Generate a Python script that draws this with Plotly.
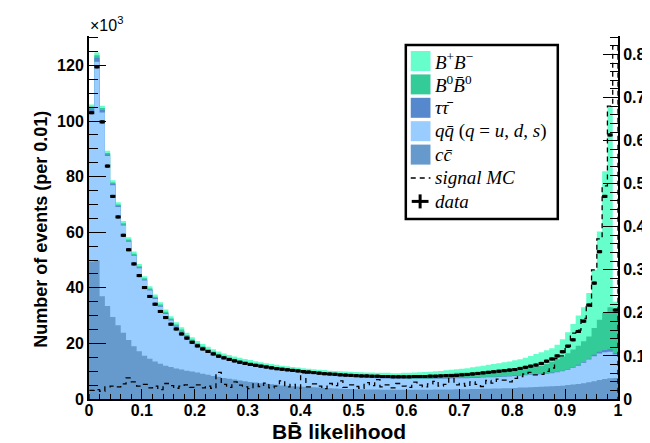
import plotly.graph_objects as go

# ---------------- data ----------------
n_bins = 100
bin_edges = [round(i * 0.01, 2) for i in range(n_bins + 1)]
bin_centers = [round((i + 0.5) * 0.01, 3) for i in range(n_bins)]

# cumulative stack levels, in units of 10^3 events per 0.01
# top of B+B- (= total MC)
stack_top_bpbm = [
    106.0, 124.7, 105.5, 89.3, 78.7, 70.8, 64.0, 58.2, 53.1, 48.6,
    44.2, 40.6, 37.6, 34.8, 32.2, 29.8, 27.6, 25.8, 23.8, 22.2,
    20.9, 19.8, 18.8, 17.9, 17.1, 16.4, 15.8, 15.3, 14.8, 14.4,
    14.0, 13.6, 13.2, 12.9, 12.6, 12.3, 12.0, 11.8, 11.5, 11.3,
    11.1, 10.9, 10.7, 10.5, 10.4, 10.2, 10.1, 10.0, 9.9, 9.8,
    9.7, 9.6, 9.5, 9.5, 9.4, 9.4, 9.4, 9.3, 9.3, 9.4,
    9.4, 9.5, 9.6, 9.7, 9.8, 10.0, 10.1, 10.3, 10.5, 10.7,
    10.9, 11.1, 11.4, 11.7, 12.0, 12.3, 12.6, 12.9, 13.2, 13.5,
    13.9, 14.3, 14.8, 15.5, 16.2, 16.8, 17.5, 18.3, 19.5, 21.5,
    24.0, 27.0, 30.0, 33.0, 38.1, 46.5, 60.3, 81.9, 105.3, 35.0]
# top of B0 B0bar
stack_top_b0b0 = [
    105.2, 123.7, 104.7, 88.5, 77.9, 70.0, 63.2, 57.4, 52.3, 47.8,
    43.4, 39.8, 36.8, 34.0, 31.4, 29.0, 26.8, 25.0, 23.0, 21.4,
    20.1, 19.0, 18.0, 17.1, 16.3, 15.6, 15.0, 14.5, 14.0, 13.6,
    13.2, 12.8, 12.4, 12.1, 11.8, 11.5, 11.2, 11.0, 10.7, 10.5,
    10.2, 10.0, 9.8, 9.6, 9.5, 9.3, 9.2, 9.1, 9.0, 8.9,
    8.7, 8.6, 8.5, 8.5, 8.4, 8.4, 8.4, 8.3, 8.3, 8.4,
    8.3, 8.4, 8.5, 8.6, 8.7, 8.7, 8.8, 9.0, 9.2, 9.4,
    9.4, 9.5, 9.6, 9.7, 9.8, 9.9, 10.0, 10.1, 10.2, 10.2,
    10.3, 10.6, 10.9, 11.2, 11.5, 12.0, 12.6, 13.4, 14.3, 15.3,
    16.5, 17.8, 19.2, 20.8, 22.5, 25.5, 28.5, 31.0, 33.0, 31.0]
# top of tau tau
stack_top_tautau = [
    104.5, 122.8, 104.0, 88.0, 77.4, 69.5, 62.7, 56.9, 51.8, 47.3,
    42.9, 39.3, 36.3, 33.5, 30.9, 28.5, 26.3, 24.5, 22.5, 20.9,
    19.6, 18.5, 17.5, 16.6, 15.8, 15.1, 14.5, 14.0, 13.5, 13.1,
    12.7, 12.3, 11.9, 11.6, 11.3, 11.0, 10.7, 10.5, 10.2, 10.0,
    9.6, 9.4, 9.2, 9.0, 8.9, 8.7, 8.6, 8.4, 8.3, 8.2,
    8.0, 7.9, 7.8, 7.8, 7.7, 7.6, 7.6, 7.5, 7.5, 7.5,
    7.4, 7.4, 7.4, 7.4, 7.4, 7.5, 7.5, 7.5, 7.6, 7.7,
    7.7, 7.7, 7.8, 7.8, 7.9, 8.0, 8.0, 8.1, 8.2, 8.3,
    8.5, 8.6, 8.7, 8.9, 9.0, 9.1, 9.3, 9.5, 9.8, 10.2,
    10.8, 11.5, 12.3, 13.3, 14.5, 15.9, 17.0, 17.6, 18.0, 16.5]
# top of q qbar (uds)
stack_top_qq = [
    103.5, 121.3, 103.1, 87.4, 76.9, 69.1, 62.4, 56.6, 51.5, 47.0,
    42.6, 39.0, 36.0, 33.2, 30.6, 28.2, 26.0, 24.2, 22.2, 20.6,
    19.4, 18.3, 17.3, 16.4, 15.6, 14.9, 14.3, 13.8, 13.3, 12.9,
    12.5, 12.1, 11.7, 11.4, 11.1, 10.8, 10.5, 10.3, 10.0, 9.8,
    9.4, 9.2, 9.0, 8.8, 8.7, 8.5, 8.4, 8.2, 8.1, 8.0,
    7.8, 7.7, 7.6, 7.6, 7.5, 7.4, 7.4, 7.3, 7.3, 7.3,
    7.2, 7.2, 7.2, 7.2, 7.2, 7.3, 7.3, 7.3, 7.4, 7.5,
    7.5, 7.5, 7.6, 7.6, 7.7, 7.8, 7.8, 7.9, 8.0, 8.1,
    8.3, 8.4, 8.5, 8.7, 8.8, 8.9, 9.1, 9.3, 9.6, 10.0,
    10.5, 11.2, 12.0, 13.0, 14.2, 15.4, 16.4, 16.8, 17.0, 16.0]
# top of c cbar (bottom of the stack)
stack_top_cc = [
    49.5, 49.8, 37.0, 33.5, 29.5, 26.5, 23.8, 21.2, 19.0, 17.2,
    15.6, 14.5, 13.5, 12.7, 12.0, 11.5, 11.0, 10.6, 10.2, 9.9,
    9.5, 9.1, 8.7, 8.3, 8.0, 7.6, 7.3, 7.0, 6.7, 6.4,
    6.1, 5.9, 5.7, 5.5, 5.3, 5.1, 4.9, 4.8, 4.6, 4.5,
    4.4, 4.3, 4.2, 4.1, 4.0, 3.9, 3.8, 3.7, 3.6, 3.6,
    3.5, 3.5, 3.4, 3.4, 3.4, 3.3, 3.3, 3.3, 3.3, 3.3,
    3.3, 3.3, 3.3, 3.3, 3.3, 3.4, 3.4, 3.4, 3.4, 3.5,
    3.5, 3.5, 3.6, 3.6, 3.7, 3.7, 3.8, 3.8, 3.9, 3.9,
    4.0, 4.1, 4.1, 4.2, 4.3, 4.4, 4.5, 4.6, 4.7, 4.8,
    5.0, 5.2, 5.4, 5.7, 6.0, 6.4, 6.8, 7.2, 7.5, 7.6]

# signal MC (normalised, right axis)
signal_mc = [
    0.020, 0.022, 0.018, 0.028, 0.030, 0.028, 0.035, 0.049, 0.040, 0.030,
    0.034, 0.026, 0.030, 0.022, 0.036, 0.031, 0.025, 0.030, 0.033, 0.027,
    0.033, 0.026, 0.030, 0.025, 0.062, 0.034, 0.027, 0.040, 0.032, 0.028,
    0.024, 0.035, 0.029, 0.037, 0.026, 0.030, 0.042, 0.028, 0.034, 0.025,
    0.061, 0.028, 0.035, 0.030, 0.024, 0.036, 0.031, 0.042, 0.027, 0.033,
    0.029, 0.025, 0.038, 0.031, 0.045, 0.028, 0.033, 0.026, 0.036, 0.030,
    0.027, 0.039, 0.032, 0.028, 0.035, 0.041, 0.030, 0.034, 0.048, 0.033,
    0.036, 0.030, 0.040, 0.034, 0.029, 0.043, 0.037, 0.046, 0.044, 0.040,
    0.048, 0.052, 0.058, 0.062, 0.056, 0.057, 0.064, 0.072, 0.094, 0.100,
    0.122, 0.153, 0.160, 0.187, 0.215, 0.300, 0.372, 0.495, 0.680, 0.820]

# data (10^3 events per 0.01)
data_counts = [
    103.0, 119.5, 99.7, 83.8, 72.9, 65.5, 58.9, 53.7, 48.6, 44.4,
    40.1, 36.9, 34.1, 31.5, 29.3, 26.9, 25.2, 23.4, 21.9, 20.4,
    19.1, 18.0, 17.1, 16.2, 15.4, 14.8, 14.2, 13.7, 13.2, 12.8,
    12.4, 12.1, 11.8, 11.5, 11.2, 10.9, 10.7, 10.5, 10.3, 10.1,
    9.9, 9.7, 9.5, 9.3, 9.1, 9.0, 8.9, 8.7, 8.6, 8.5,
    8.4, 8.3, 8.3, 8.2, 8.2, 8.1, 8.1, 8.0, 8.0, 8.0,
    8.0, 8.1, 8.1, 8.1, 8.2, 8.2, 8.3, 8.4, 8.4, 8.5,
    8.7, 8.8, 9.0, 9.2, 9.4, 9.6, 9.8, 10.0, 10.2, 10.4,
    10.6, 11.0, 11.4, 11.8, 12.2, 12.8, 13.6, 14.4, 15.5, 17.0,
    19.0, 21.3, 24.3, 28.0, 33.8, 41.7, 53.0, 72.9, 95.0, 32.0]

component_labels = [
    "<i>B</i><sup>+</sup><i>B</i><sup>\u2212</sup>",
    "<i>B</i><sup>0</sup><i>B\u0304</i><sup>0</sup>",
    "<i>\u03c4\u03c4\u0304</i>",
    "<i>qq\u0304</i> (<i>q</i> = <i>u</i>, <i>d</i>, <i>s</i>)",
    "<i>cc\u0304</i>",
]
signal_label = "<i>signal MC</i>"
data_label = "<i>data</i>"
x_title = "BB\u0304 likelihood"
y_title = "Number of events (per 0.01)"

# ---------------- styling ----------------
colors = ["#66ffcc", "#33cc99", "#5588cc", "#99ccff", "#6699cc"]
levels = [stack_top_bpbm, stack_top_b0b0, stack_top_tautau, stack_top_qq, stack_top_cc]

PL, PR, PT, PB = 81, 617, 28, 391   # plot area in pixels
W, H = 650, 443


def px_x(px):
    return (px - PL) / (PR - PL)


def px_y(py):
    return (PB - py) / (PB - PT)


def step_xy(vals):
    xs = [bin_edges[0]] + bin_edges[:-1] + [bin_edges[-1], bin_edges[-1]]
    ys = [0] + list(vals) + [vals[-1], 0]
    return xs, ys


fig = go.Figure()

for lev, col in zip(levels, colors):
    xs, ys = step_xy(lev)
    fig.add_trace(go.Scatter(
        x=xs, y=ys, mode="lines", line=dict(width=0, shape="hv", color=col),
        fill="tozeroy", fillcolor=col, hoverinfo="skip", showlegend=False))

fig.add_trace(go.Scatter(
    x=bin_centers, y=data_counts, mode="markers",
    marker=dict(symbol="square", size=3, color="black"),
    error_x=dict(type="constant", value=0.005, thickness=3, width=0, color="black"),
    showlegend=False))

xs, ys = step_xy(signal_mc)
fig.add_trace(go.Scatter(
    x=xs, y=ys, mode="lines", yaxis="y2",
    line=dict(color="black", width=1.3, dash="5px,4px", shape="hv"),
    showlegend=False))

tickfont = dict(family="Liberation Sans", size=16, color="black", weight="bold")

fig.update_layout(
    width=W, height=H,
    margin=dict(l=PL, r=W - PR, t=PT, b=H - PB),
    plot_bgcolor="white", paper_bgcolor="white",
    showlegend=False,
    xaxis=dict(range=[0, 1], tick0=0, dtick=0.1, ticks="inside", ticklen=10,
               tickwidth=1.2, tickcolor="black", showline=True, linecolor="black",
               linewidth=2, showgrid=False, zeroline=False, tickfont=tickfont,
               ticklabelstandoff=-4,
               minor=dict(ticks="inside", ticklen=5, dtick=0.02, tickwidth=1,
                          tickcolor="black", showgrid=False)),
    yaxis=dict(range=[0, 130.6], tick0=0, dtick=20, ticks="inside", ticklen=17,
               tickwidth=1.2, tickcolor="black", showline=True, linecolor="black",
               linewidth=2, showgrid=False, zeroline=False, tickfont=tickfont,
               minor=dict(ticks="inside", ticklen=9, dtick=5, tickwidth=1,
                          tickcolor="black", showgrid=False)),
    yaxis2=dict(range=[0, 0.843], tick0=0, dtick=0.1, overlaying="y", side="right",
                ticks="inside", ticklen=15, tickwidth=1.2, tickcolor="black",
                showline=True, linecolor="black", linewidth=2, showgrid=False,
                zeroline=False, tickfont=tickfont,
                minor=dict(ticks="inside", ticklen=8, dtick=0.02, tickwidth=1,
                           tickcolor="black", showgrid=False)),
)

shapes = []
annotations = []

# axis titles and exponent
annotations.append(dict(text=x_title, x=px_x(334), y=px_y(424),
                        xref="paper", yref="paper", showarrow=False, yanchor="middle",
                        font=dict(family="Liberation Sans", size=21, color="black", weight="bold")))
annotations.append(dict(text=y_title, x=px_x(20), y=px_y(221),
                        xref="paper", yref="paper", showarrow=False, textangle=-90,
                        font=dict(family="Liberation Sans", size=18, color="black", weight="bold")))
annotations.append(dict(text="\u00d710<sup>3</sup>", x=px_x(80), y=px_y(16),
                        xref="paper", yref="paper", showarrow=False, xanchor="left",
                        yanchor="middle",
                        font=dict(family="Liberation Sans", size=16, color="black")))

# legend box (drawn by hand, ROOT style)
shapes.append(dict(type="rect", xref="paper", yref="paper",
                   x0=px_x(402), x1=px_x(556), y0=px_y(211), y1=px_y(37),
                   line=dict(color="black", width=2.5), fillcolor="white", layer="above"))
row_y = [53, 76.4, 99.8, 123.2, 146.6, 170, 193.4]
legfont = dict(family="Liberation Serif", size=19, color="black")
for i, (lab, col) in enumerate(zip(component_labels, colors)):
    yc = row_y[i]
    shapes.append(dict(type="rect", xref="paper", yref="paper",
                       x0=px_x(407), x1=px_x(427), y0=px_y(yc + 10), y1=px_y(yc - 10),
                       line=dict(width=0), fillcolor=col, layer="above"))
    annotations.append(dict(text=lab, x=px_x(430), y=px_y(yc), xref="paper", yref="paper",
                            showarrow=False, xanchor="left", yanchor="middle", font=legfont))
# signal MC entry
shapes.append(dict(type="line", xref="paper", yref="paper",
                   x0=px_x(407), x1=px_x(427), y0=px_y(row_y[5]), y1=px_y(row_y[5]),
                   line=dict(color="black", width=1.3, dash="5px,4px"), layer="above"))
annotations.append(dict(text=signal_label, x=px_x(430), y=px_y(row_y[5]), xref="paper",
                        yref="paper", showarrow=False, xanchor="left", yanchor="middle",
                        font=legfont))
# data entry (+)
shapes.append(dict(type="line", xref="paper", yref="paper",
                   x0=px_x(408), x1=px_x(425), y0=px_y(row_y[6]), y1=px_y(row_y[6]),
                   line=dict(color="black", width=3), layer="above"))
shapes.append(dict(type="line", xref="paper", yref="paper",
                   x0=px_x(416.5), x1=px_x(416.5), y0=px_y(row_y[6] + 7), y1=px_y(row_y[6] - 7),
                   line=dict(color="black", width=3), layer="above"))
annotations.append(dict(text=data_label, x=px_x(430), y=px_y(row_y[6]), xref="paper",
                        yref="paper", showarrow=False, xanchor="left", yanchor="middle",
                        font=legfont))

fig.update_layout(shapes=shapes, annotations=annotations)
fig.write_html("out.html")
